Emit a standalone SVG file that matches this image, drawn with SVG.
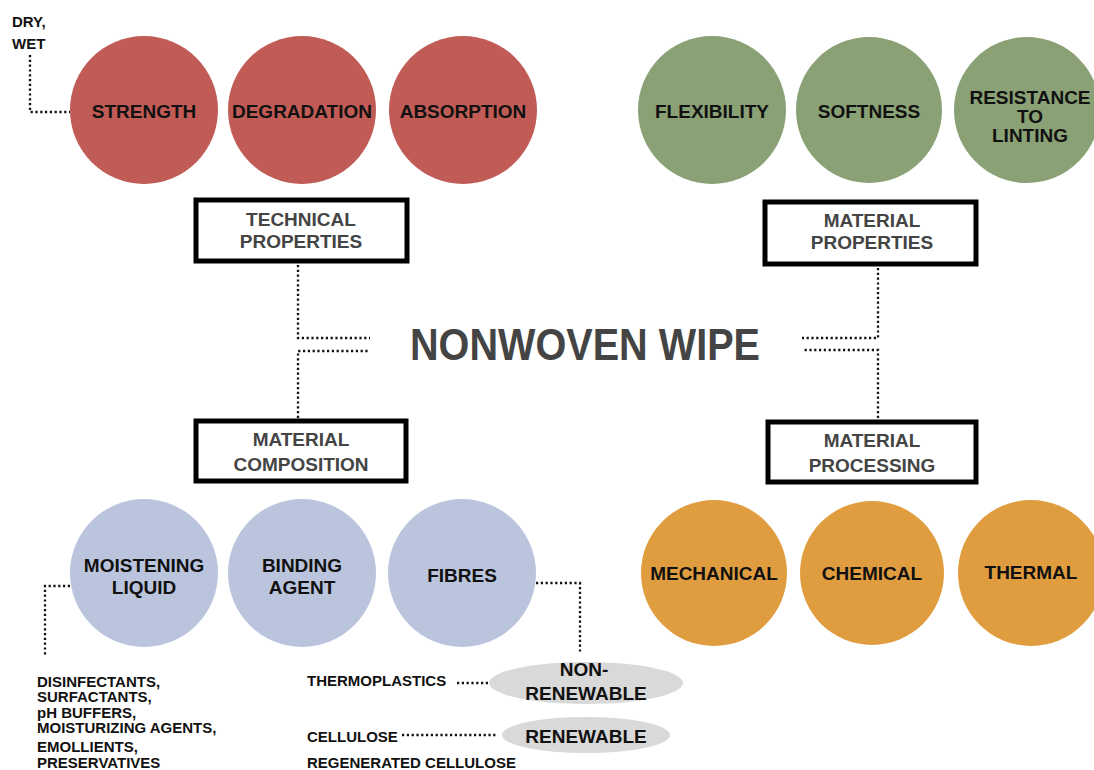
<svg xmlns="http://www.w3.org/2000/svg" width="1094" height="770" viewBox="0 0 1094 770">
<style>
.lbl{font-family:"Liberation Sans",Arial,sans-serif;font-weight:bold;font-size:19px;fill:#111;text-anchor:middle}
.box{fill:#fff;stroke:#000;stroke-width:5}
.btxt{font-family:"Liberation Sans",Arial,sans-serif;font-weight:bold;font-size:19px;fill:#444;text-anchor:middle}
.small{font-family:"Liberation Sans",Arial,sans-serif;font-weight:bold;font-size:15px;fill:#111}
.dot{fill:none;stroke:#111;stroke-width:2.3;stroke-dasharray:2.2 2.6}
.red{fill:#C15B56}.green{fill:#8AA176}.blue{fill:#BAC5DD}.orange{fill:#E09D3F}.grey{fill:#D9D9D9}
</style>
<rect width="1094" height="770" fill="#fff"/>
<g id="connectors">
<path class="dot" d="M30,55 V112 H70"/>
<path class="dot" d="M298,265 V338 H370"/>
<path class="dot" d="M298,418 V351 H370"/>
<path class="dot" d="M878,268 V338 H802"/>
<path class="dot" d="M878,418 V350 H802"/>
<path class="dot" d="M70,586 H45 V656"/>
<path class="dot" d="M536,583 H580 V652"/>
<path class="dot" d="M457,683 H488"/>
<path class="dot" d="M402,735 H498"/>
</g>
<g id="dry-wet"><text class="small" x="12" y="27">DRY,</text><text class="small" x="12" y="49">WET</text></g>
<g id="strength"><circle class="red" cx="144" cy="110" r="74"/><text class="lbl" x="144" y="118">STRENGTH</text></g>
<g id="degradation"><circle class="red" cx="302" cy="110" r="74"/><text class="lbl" x="302" y="118">DEGRADATION</text></g>
<g id="absorption"><circle class="red" cx="463" cy="110" r="74"/><text class="lbl" x="463" y="118">ABSORPTION</text></g>
<g id="flexibility"><circle class="green" cx="712" cy="110" r="74"/><text class="lbl" x="712" y="118">FLEXIBILITY</text></g>
<g id="softness"><circle class="green" cx="869" cy="110" r="73"/><text class="lbl" x="869" y="118">SOFTNESS</text></g>
<g id="linting"><circle class="green" cx="1027" cy="110" r="73"/><text class="lbl" x="1030" y="104">RESISTANCE</text><text class="lbl" x="1030" y="123">TO</text><text class="lbl" x="1030" y="142">LINTING</text></g>
<g id="technical-properties"><rect class="box" x="196" y="200" width="211" height="61"/><text class="btxt" x="301" y="226">TECHNICAL</text><text class="btxt" x="301" y="248">PROPERTIES</text></g>
<g id="material-properties"><rect class="box" x="765" y="202" width="211" height="62"/><text class="btxt" x="872" y="227">MATERIAL</text><text class="btxt" x="872" y="249">PROPERTIES</text></g>
<g id="nonwoven-wipe"><text x="585" y="360" textLength="350" lengthAdjust="spacingAndGlyphs" style="font-family:'Liberation Sans',Arial,sans-serif;font-weight:bold;font-size:44px;fill:#444;text-anchor:middle">NONWOVEN WIPE</text></g>
<g id="material-composition"><rect class="box" x="196" y="421" width="210" height="60"/><text class="btxt" x="301" y="446">MATERIAL</text><text class="btxt" x="301" y="471">COMPOSITION</text></g>
<g id="material-processing"><rect class="box" x="768" y="422" width="208" height="60"/><text class="btxt" x="872" y="447">MATERIAL</text><text class="btxt" x="872" y="472">PROCESSING</text></g>
<g id="moistening-liquid"><circle class="blue" cx="144" cy="573" r="74"/><text class="lbl" x="144" y="572">MOISTENING</text><text class="lbl" x="144" y="594">LIQUID</text></g>
<g id="binding-agent"><circle class="blue" cx="302" cy="573" r="74"/><text class="lbl" x="302" y="572">BINDING</text><text class="lbl" x="302" y="594">AGENT</text></g>
<g id="fibres"><circle class="blue" cx="462" cy="573" r="74"/><text class="lbl" x="462" y="582">FIBRES</text></g>
<g id="mechanical"><circle class="orange" cx="714" cy="573" r="73"/><text class="lbl" x="714" y="580">MECHANICAL</text></g>
<g id="chemical"><circle class="orange" cx="872" cy="573" r="72"/><text class="lbl" x="872" y="580">CHEMICAL</text></g>
<g id="thermal"><circle class="orange" cx="1031" cy="573" r="73"/><text class="lbl" x="1031" y="579">THERMAL</text></g>
<g id="liquid-list">
<text class="small" x="37" y="687">DISINFECTANTS,</text>
<text class="small" x="37" y="702">SURFACTANTS,</text>
<text class="small" x="37" y="718">pH BUFFERS,</text>
<text class="small" x="37" y="733">MOISTURIZING AGENTS,</text>
<text class="small" x="37" y="752">EMOLLIENTS,</text>
<text class="small" x="37" y="768">PRESERVATIVES</text>
</g>
<g id="non-renewable"><ellipse class="grey" cx="586" cy="683" rx="97" ry="21"/><text class="lbl" x="584" y="676">NON-</text><text class="lbl" x="586" y="700">RENEWABLE</text></g>
<g id="renewable"><ellipse class="grey" cx="586" cy="735" rx="84" ry="18"/><text class="lbl" x="586" y="743">RENEWABLE</text></g>
<g id="thermoplastics"><text class="small" x="307" y="686">THERMOPLASTICS</text></g>
<g id="cellulose"><text class="small" x="307" y="742">CELLULOSE</text><text class="small" x="307" y="768">REGENERATED CELLULOSE</text></g>
</svg>
